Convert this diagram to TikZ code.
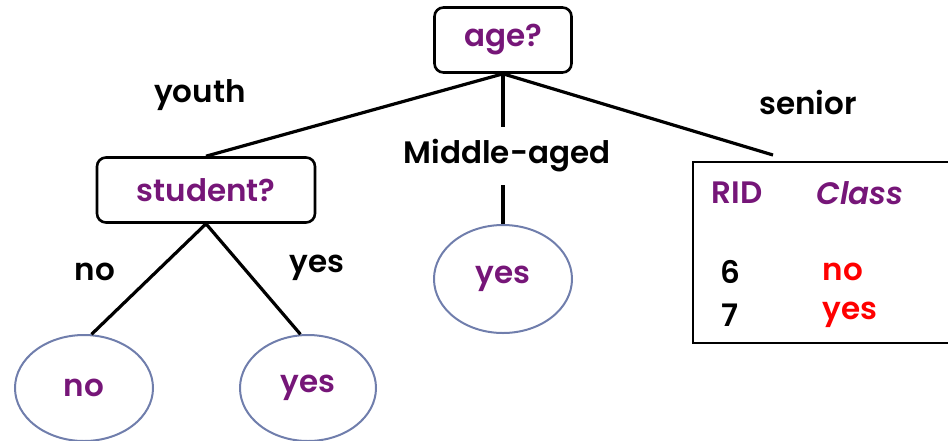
\documentclass[tikz,border=0pt]{standalone}
\usepackage{fontspec}
\setmainfont{Poppins}[BoldFont={Poppins SemiBold}]
\usetikzlibrary{shapes.geometric}
\definecolor{plum}{RGB}{118,22,120}
\definecolor{leafblue}{RGB}{112,126,172}
\definecolor{hot}{RGB}{255,0,0}
\newcommand\labelfont{\fontsize{31}{35}\selectfont\bfseries}
\tikzset{
  test/.style={draw=black, line width=2.6pt, rounded corners=9pt, fill=white,
    text=plum, font=\labelfont, inner sep=0pt},
  leaf/.style={draw=leafblue, line width=2pt, ellipse, inner sep=0pt,
    text=plum, font=\labelfont},
  branch/.style={font=\labelfont, text=black},
  edge/.style={draw=black, line width=3.2pt},
  cell/.style={font=\labelfont, anchor=center}
}
\begin{document}
\begin{tikzpicture}[x=1pt,y=-1pt]
\useasboundingbox (0,0) rectangle (948,440);
% internal tests
\node[test, minimum width=137pt, minimum height=65pt] (age) at (503,40) {age?};
\node[test, minimum width=218pt, minimum height=65pt] (student) at (206,190) {student?};
% leaves
\node[leaf, minimum width=138pt, minimum height=108pt] (midyes) at (503,279) {yes};
\node[leaf, minimum width=138pt, minimum height=106pt] (leftno) at (84,388) {no};
\node[leaf, minimum width=136pt, minimum height=106pt] (leftyes) at (308,388) {yes};
% partition table for seniors
\draw[line width=2.6pt] (950,162) -- (693,162) -- (693,343) -- (950,343);
\node[cell, text=plum] (rid) at (737,193) {RID};
\node[cell, text=plum, font=\labelfont\itshape] (cls) at (860,193) {Class};
\node[cell] (r6) at (730,272) {6};
\node[cell, text=hot] (c6) at (843,272) {no};
\node[cell] (r7) at (730,315) {7};
\node[cell, text=hot] (c7) at (850,315) {yes};
% branch labels
\node[branch] (youth) at (200,95) {youth};
\node[branch, inner xsep=0pt, minimum height=58pt] (middle) at (507,156) {Middle-aged};
\node[branch] (senior) at (808,102) {senior};
\node[branch] (no) at (95,272) {no};
\node[branch] (yes) at (317,268) {yes};
\coordinate (seniorend) at (773,155);
% connectors
\draw[edge] (age.south) -- (student.north);
\draw[edge] (age.south) -- (seniorend);
\draw[edge] (age.south) -- (age.south |- middle.north);
\draw[edge] (midyes.north |- middle.south) -- (midyes.north);
\draw[edge] (student.south) -- (leftno.82);
\draw[edge] (student.south) -- (leftyes.98);
\end{tikzpicture}
\end{document}
